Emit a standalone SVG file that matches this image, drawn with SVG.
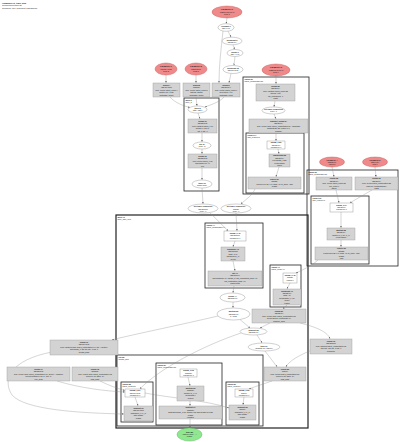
<svg xmlns="http://www.w3.org/2000/svg" width="400" height="442" viewBox="0 0 400 442">
<defs>
<marker id="a" viewBox="0 0 6 6" refX="6" refY="3" markerWidth="1.8" markerHeight="1.8" markerUnits="userSpaceOnUse" orient="auto"><path d="M0,0L6,3L0,6z" fill="#666"/></marker>
<style>
text{font-family:"Liberation Sans",Arial,sans-serif;font-size:2.1px;fill:#222;text-anchor:middle}
.b{font-weight:bold}
.l{text-anchor:start}
.s{font-size:1.9px}
.g{fill:#d3d3d3;stroke:#9a9a9a;stroke-width:0.4}
.w{fill:#fff;stroke:#888;stroke-width:0.4}
.r{fill:#f08a8a;stroke:#c05050;stroke-width:0.4}
.gr{fill:#8fe88f;stroke:#50b050;stroke-width:0.4}
.c{fill:none;stroke:#222;stroke-width:0.8}
.cb{fill:none;stroke:#222;stroke-width:1.2}
#edges path{fill:none;stroke:#888;stroke-width:0.35;marker-end:url(#a)}
</style>
</defs>
<rect width="400" height="442" fill="#fff"/>

<g id="header">
<text class="l b" x="2" y="3.5">HloModule jit_train_step</text>
<text class="l" x="2" y="6.3">Computation main.87</text>
<text class="l" x="2" y="9.1">Compiled: cpu, fingerprint 7d3e2c1a9f</text>
</g>

<g id="clusters">
<g id="cl_while_body"><rect class="c" x="184" y="98" width="35" height="93"/><text class="l b s" x="185.5" y="100.6">while.9</text><text class="l s" x="185.5" y="102.8">body_5</text></g>
<g id="cl_fusion_a"><rect class="c" x="243" y="77" width="66" height="117"/><text class="l b s" x="244.5" y="79.6">fusion.21</text><text class="l s" x="244.5" y="81.8">fused_computation.21</text></g>
<g id="cl_fusion_a_inner"><rect class="c" x="246" y="133" width="58" height="60"/><text class="l b s" x="247.5" y="135.6">reduce.14</text><text class="l s" x="247.5" y="137.8">add_reducer.3</text></g>
<g id="cl_fusion_b"><rect class="c" x="307" y="170" width="91" height="96"/><text class="l b s" x="308.5" y="172.6">fusion.30</text><text class="l s" x="308.5" y="174.8">fused_computation.30</text></g>
<g id="cl_fusion_b_inner"><rect class="c" x="311" y="196" width="58" height="68"/><text class="l b s" x="312.5" y="198.6">reduce.31</text><text class="l s" x="312.5" y="200.8">max_reducer.1</text></g>
<g id="cl_main_while"><rect class="cb" x="116" y="215" width="192" height="213"/><text class="l b s" x="117.5" y="217.6">while.40</text><text class="l s" x="117.5" y="219.8">body_train_loop</text></g>
<g id="cl_upper"><rect class="c" x="205" y="223" width="58" height="65"/><text class="l b s" x="206.5" y="225.6">fusion.44</text><text class="l s" x="206.5" y="227.8">fused_computation.44</text></g>
<g id="cl_small"><rect class="c" x="270" y="265" width="31" height="42"/><text class="l b s" x="271.5" y="267.6">fusion.47</text><text class="l s" x="271.5" y="269.8">fused_comp.47</text></g>
<g id="cl_lower"><rect class="c" x="117" y="355" width="146" height="71"/><text class="l b s" x="118.5" y="357.6">call.52</text><text class="l s" x="118.5" y="359.8">update_step</text></g>
<g id="cl_lower_left"><rect class="c" x="121" y="382" width="32" height="40"/><text class="l b s" x="122.5" y="384.6">fusion.55</text><text class="l s" x="122.5" y="386.8">fused_comp.55</text></g>
<g id="cl_lower_mid"><rect class="c" x="156" y="363" width="66" height="62"/><text class="l b s" x="157.5" y="365.6">fusion.57</text><text class="l s" x="157.5" y="367.8">fused_computation.57</text></g>
<g id="cl_lower_right"><rect class="c" x="226" y="382" width="33" height="43"/><text class="l b s" x="227.5" y="384.6">fusion.59</text><text class="l s" x="227.5" y="386.8">fused_comp.59</text></g>
</g>

<g id="edges">
<path d="M227,18 L226.2,23.5"/>
<path d="M228,31.2 L231,37"/>
<path d="M233,44.8 L234.6,49.3"/>
<path d="M235,56.5 L234,65.3"/>
<path d="M223,31 C221,50 219,65 219,82.8"/>
<path d="M231,73.5 L229,82.8"/>
<path d="M166,75 L166,82.8"/>
<path d="M196,75 L196,82.8"/>
<path d="M276,76 L276,83.8"/>
<path d="M170,97 C175,103 184,106 190,107.5"/>
<path d="M196,97 L197,105.8"/>
<path d="M224,97 C220,102 210,105 205,107"/>
<path d="M198,113 L200,118.8"/>
<path d="M202,133 L202,141.8"/>
<path d="M202,149 L202,153.8"/>
<path d="M202,168 L202,179.8"/>
<path d="M202,188 L203,203.8"/>
<path d="M275,101 L274,106.8"/>
<path d="M274,114 L276,118.8"/>
<path d="M276,133 L276,140.8"/>
<path d="M278,149 L279,153.8"/>
<path d="M279,167 L276,176.8"/>
<path d="M255,189 C252,196 246,199 241,204"/>
<path d="M332,167 L334,176.8"/>
<path d="M375,167 L376,176.8"/>
<path d="M336,190 L339,202.8"/>
<path d="M372,190 L350,202.8"/>
<path d="M341,212 L341,227.8"/>
<path d="M341,240 L341,246.8"/>
<path d="M318,260 C312,266 302,270 296,273"/>
<path d="M210,212.8 L228,230.8"/>
<path d="M236,213 L237,230.8"/>
<path d="M235,241 L233,246.8"/>
<path d="M233,261 L235,270.8"/>
<path d="M234,286 L233,292.8"/>
<path d="M290,283 L287,288.8"/>
<path d="M233,302 L233,307.8"/>
<path d="M287,305 L283,308.8"/>
<path d="M240,319.5 L250,328"/>
<path d="M270,323 L260,328"/>
<path d="M257,335 L262,342.8"/>
<path d="M265,351 L277,366.8"/>
<path d="M272,381 L249,388.8"/>
<path d="M244,397 L243,404.8"/>
<path d="M188,377 L190,385.8"/>
<path d="M190,401 L190,405.8"/>
<path d="M190,419 L190,427.8"/>
<path d="M135,397 L138,405.8"/>
<path d="M218,316 C180,325 140,333 112,339.8"/>
<path d="M241,333 C205,345 160,368 140,388.8"/>
<path d="M52,352 C10,360 2,380 12,395 C25,410 80,413 123.8,414"/>
<path d="M57,381 C80,388 105,391 124.8,392"/>
<path d="M100,381 C108,385 116,388 124.8,390.5"/>
<path d="M145,393 C170,398 205,400 229,408"/>
<path d="M300,323 C320,328 328,333 330,338.8"/>
<path d="M312,350 C300,355 290,360 286,366.8"/>
</g>

<g id="n_param0"><ellipse class="r" cx="227" cy="12" rx="15" ry="6"/><text class="b" x="227" y="10.4">Parameter 0</text><text x="227" y="12.8">f32[32,784]{1,0}</text><text x="227" y="15.2">arg0.1</text></g>
<g id="n_const7"><ellipse class="w" cx="226" cy="27.5" rx="8" ry="3.8"/><text class="b s" x="226" y="27">constant.7</text><text class="s" x="226" y="29.3">f32[] 0.01</text></g>
<g id="n_bcast3"><ellipse class="w" cx="232" cy="41" rx="10" ry="3.8"/><text class="b s" x="232" y="40.5">broadcast.3</text><text class="s" x="232" y="42.8">f32[32,10]</text></g>
<g id="n_neg1"><ellipse class="w" cx="235" cy="53" rx="8" ry="3.5"/><text class="b s" x="235" y="52.5">negate.1</text><text class="s" x="235" y="54.8">f32[] -0.01</text></g>
<g id="n_bcast12"><ellipse class="w" cx="233" cy="69.5" rx="10" ry="4"/><text class="b s" x="233" y="69">broadcast.12</text><text class="s" x="233" y="71.3">f32[784,512]</text></g>

<g id="n_param1"><ellipse class="r" cx="166" cy="69" rx="11" ry="6"/><text class="b" x="166" y="67.4">Parameter 1</text><text x="166" y="69.8">f32[784,512]</text><text x="166" y="72.2">arg1.2</text></g>
<g id="n_param2"><ellipse class="r" cx="196" cy="69" rx="11" ry="6"/><text class="b" x="196" y="67.4">Parameter 2</text><text x="196" y="69.8">f32[512]{0}</text><text x="196" y="72.2">arg2.3</text></g>
<g id="n_param3"><ellipse class="r" cx="276" cy="70" rx="14" ry="6"/><text class="b" x="276" y="68.4">Parameter 3</text><text x="276" y="70.8">f32[512,10]{1,0}</text><text x="276" y="73.2">arg3.4</text></g>

<g id="n_fusion4"><rect class="g" x="153" y="83" width="27" height="14"/><text class="b s" x="166.5" y="85.6">fusion.4</text><text class="s" x="166.5" y="88.1">f32[784,512]</text><text class="s" x="166.5" y="90.6">kind=kLoop fused_comp.4</text><text class="s" x="166.5" y="93.1">multiply(p1, b.12)</text><text class="s" x="166.5" y="95.6">metadata=dense</text></g>
<g id="n_fusion5"><rect class="g" x="183" y="83" width="27" height="14"/><text class="b s" x="196.5" y="85.6">fusion.5</text><text class="s" x="196.5" y="88.1">f32[512]</text><text class="s" x="196.5" y="90.6">kind=kLoop fused_comp.5</text><text class="s" x="196.5" y="93.1">add(p2, bias.2)</text><text class="s" x="196.5" y="95.6">metadata=dense</text></g>
<g id="n_fusion6"><rect class="g" x="212" y="83" width="28" height="14"/><text class="b s" x="226" y="85.6">fusion.6</text><text class="s" x="226" y="88.1">f32[32,784]</text><text class="s" x="226" y="90.6">kind=kLoop fused_comp.6</text><text class="s" x="226" y="93.1">convert(p0, c.7)</text><text class="s" x="226" y="95.6">metadata=input</text></g>

<g id="n_tuple8"><ellipse class="w" cx="197.5" cy="109.5" rx="9.5" ry="3.5"/><text class="b s" x="197.5" y="109">tuple.8</text><text class="s" x="197.5" y="111.3">(f32[], f32[])</text></g>
<g id="n_fusion10"><rect class="g" x="188" y="119" width="29" height="14"/><text class="b s" x="202.5" y="121.6">fusion.10</text><text class="s" x="202.5" y="124.1">f32[32,512]</text><text class="s" x="202.5" y="126.6">kind=kOutput fused_c.10</text><text class="s" x="202.5" y="129.1">dot(gte.0, gte.1)</text><text class="s" x="202.5" y="131.6">lhs=1 rhs=0</text></g>
<g id="n_gte11"><ellipse class="w" cx="202" cy="145.5" rx="9" ry="3.5"/><text class="b s" x="202" y="145">gte.11</text><text class="s" x="202" y="147.3">index=2</text></g>
<g id="n_fusion12"><rect class="g" x="188" y="154" width="29" height="14"/><text class="b s" x="202.5" y="156.6">fusion.12</text><text class="s" x="202.5" y="159.1">f32[32,512]</text><text class="s" x="202.5" y="161.6">kind=kLoop fused_c.12</text><text class="s" x="202.5" y="164.1">maximum(f.10, 0)</text><text class="s" x="202.5" y="166.6">relu</text></g>
<g id="n_tuple13"><ellipse class="w" cx="202" cy="184" rx="10" ry="4"/><text class="b s" x="202" y="183.5">tuple.13</text><text class="s" x="202" y="185.8">ROOT body</text></g>

<g id="n_fusion22"><rect class="g" x="256" y="84" width="39" height="17"/><text class="b s" x="275.5" y="86.6">fusion.22</text><text class="s" x="275.5" y="89.1">f32[32,10]</text><text class="s" x="275.5" y="91.6">kind=kOutput fused_comp.22</text><text class="s" x="275.5" y="94.1">dot(p3, f.12)</text><text class="s" x="275.5" y="96.6">lhs_contracting=1</text><text class="s" x="275.5" y="99.1">logits</text></g>
<g id="n_gte23"><ellipse class="w" cx="273.5" cy="110.5" rx="11.5" ry="3.5"/><text class="b s" x="273.5" y="110">get-tuple-element.23</text><text class="s" x="273.5" y="112.3">index=0</text></g>
<g id="n_fusion24"><rect class="g" x="249" y="119" width="59" height="14"/><text class="b s" x="278.5" y="121.6">subtract_fusion.24</text><text class="s" x="278.5" y="124.1">f32[32,10]</text><text class="s" x="278.5" y="126.6">kind=kLoop calls: fused_computation.24, %subtract</text><text class="s" x="278.5" y="129.1">subtract(gte.23, reduce.14)</text><text class="s" x="278.5" y="131.6">softmax</text></g>
<g id="n_p25"><rect class="w" x="267" y="141" width="18" height="8"/><text class="b s" x="276" y="143.3">param_0.25</text><text class="s" x="276" y="145.5">f32[32,10]</text><text class="s" x="276" y="147.7">Parameter 0</text></g>
<g id="n_exp26"><rect class="g" x="269" y="154" width="21" height="13"/><text class="b s" x="279.5" y="156.4">exponential.26</text><text class="s" x="279.5" y="158.8">f32[32,10]</text><text class="s" x="279.5" y="161.2">exp(param_0.25)</text><text class="s" x="279.5" y="163.6">elementwise</text><text class="s" x="279.5" y="166">fused</text></g>
<g id="n_reduce27"><rect class="g" x="248" y="177" width="53" height="12"/><text class="b s" x="274.5" y="179.5">reduce.27</text><text class="s" x="274.5" y="182">f32[32]</text><text class="s" x="274.5" y="184.5">reduce(exp.26, c.0) dims={1} to_apply=add</text><text class="s" x="274.5" y="187">ROOT</text></g>

<g id="n_gte30"><ellipse class="w" cx="203" cy="208.5" rx="15" ry="4.5"/><text class="b s" x="203" y="207.3">get-tuple-element.30</text><text class="s" x="203" y="209.6">f32[32,512]</text><text class="s" x="203" y="211.9">index=1</text></g>
<g id="n_gte31"><ellipse class="w" cx="236" cy="208.5" rx="15" ry="4.5"/><text class="b s" x="236" y="207.3">get-tuple-element.31</text><text class="s" x="236" y="209.6">f32[32]</text><text class="s" x="236" y="211.9">index=0</text></g>

<g id="n_param4"><ellipse class="r" cx="332" cy="162" rx="12.5" ry="5"/><text class="b s" x="332" y="160.5">Parameter 4</text><text class="s" x="332" y="162.7">s32[32]{0}</text><text class="s" x="332" y="164.9">labels.5</text></g>
<g id="n_param5"><ellipse class="r" cx="375" cy="162" rx="12.5" ry="5"/><text class="b s" x="375" y="160.5">Parameter 5</text><text class="s" x="375" y="162.7">f32[10]{0}</text><text class="s" x="375" y="164.9">bias.6</text></g>
<g id="n_fusion32"><rect class="g" x="316" y="177" width="36" height="13"/><text class="b s" x="334" y="179.4">fusion.32</text><text class="s" x="334" y="181.8">f32[32,10]</text><text class="s" x="334" y="184.2">kind=kLoop fused_comp.32</text><text class="s" x="334" y="186.6">one_hot(p4)</text><text class="s" x="334" y="189">labels</text></g>
<g id="n_fusion33"><rect class="g" x="355" y="177" width="43" height="13"/><text class="b s" x="376.5" y="179.4">fusion.33</text><text class="s" x="376.5" y="181.8">f32[32,10]</text><text class="s" x="376.5" y="184.2">kind=kLoop fused_computation.33</text><text class="s" x="376.5" y="186.6">add(f.24, broadcast(p5))</text><text class="s" x="376.5" y="189">logits</text></g>
<g id="n_p34"><rect class="w" x="330" y="203" width="23" height="9"/><text class="b s" x="341.5" y="205.5">param_0.34</text><text class="s" x="341.5" y="207.8">f32[32,10]</text><text class="s" x="341.5" y="210.1">Parameter 0</text></g>
<g id="n_mul35"><rect class="g" x="327" y="228" width="28" height="12"/><text class="b s" x="341" y="230.5">multiply.35</text><text class="s" x="341" y="233">f32[32,10]</text><text class="s" x="341" y="235.5">multiply(p_0.34, p_1)</text><text class="s" x="341" y="238">elementwise</text></g>
<g id="n_reduce36"><rect class="g" x="315" y="247" width="53" height="13"/><text class="b s" x="341.5" y="249.4">reduce.36</text><text class="s" x="341.5" y="251.8">f32[32]</text><text class="s" x="341.5" y="254.2">reduce(mul.35, c.0) dims={1} to_apply=max</text><text class="s" x="341.5" y="256.6">ROOT</text><text class="s" x="341.5" y="259">loss</text></g>

<g id="n_p45"><rect class="w" x="224" y="231" width="22" height="10"/><text class="b s" x="235" y="233.8">param_0.45</text><text class="s" x="235" y="236.2">f32[32,512]</text><text class="s" x="235" y="238.6">Parameter 0</text></g>
<g id="n_transpose46"><rect class="g" x="221" y="247" width="24" height="14"/><text class="b s" x="233" y="249.6">transpose.46</text><text class="s" x="233" y="252.1">f32[512,32]</text><text class="s" x="233" y="254.6">dims={1,0}</text><text class="s" x="233" y="257.1">transpose(p_0)</text><text class="s" x="233" y="259.6">layout</text></g>
<g id="n_dot47"><rect class="g" x="208" y="271" width="54" height="15"/><text class="b s" x="235" y="273.8">dot.47</text><text class="s" x="235" y="276.4">f32[512,10]</text><text class="s" x="235" y="279">dot(transpose.46, param_1) lhs_contracting_dims={1}</text><text class="s" x="235" y="281.6">rhs_contracting_dims={0}</text><text class="s" x="235" y="284.2">ROOT grad</text></g>
<g id="n_p48"><rect class="w" x="283" y="273" width="14" height="10"/><text class="b s" x="290" y="275.8">param_0.48</text><text class="s" x="290" y="278.2">f32[32]</text><text class="s" x="290" y="280.6">Param 0</text></g>
<g id="n_bcast49"><rect class="g" x="273" y="289" width="28" height="16"/><text class="b s" x="287" y="291.6">broadcast.49</text><text class="s" x="287" y="294">f32[32,10]</text><text class="s" x="287" y="296.4">dims={0}</text><text class="s" x="287" y="298.8">broadcast(p_0.48)</text><text class="s" x="287" y="301.2">divide</text><text class="s" x="287" y="303.6">ROOT</text></g>
<g id="n_fusion44"><ellipse class="w" cx="232.5" cy="297.5" rx="12.5" ry="4.5"/><text class="b s" x="232.5" y="297">fusion.44</text><text class="s" x="232.5" y="299.3">f32[512,10]</text></g>
<g id="n_gte50"><ellipse class="w" cx="233.5" cy="314" rx="16.5" ry="6"/><text class="b s" x="233.5" y="312.3">multiply.50</text><text class="s" x="233.5" y="314.6">f32[512,10]</text><text class="s" x="233.5" y="316.9">lr * grad</text></g>
<g id="n_fusion51"><rect class="g" x="252" y="309" width="54" height="14"/><text class="b s" x="279" y="311.6">fusion.51</text><text class="s" x="279" y="314.1">f32[32,10]</text><text class="s" x="279" y="316.6">kind=kLoop calls: fused_computation.51</text><text class="s" x="279" y="319.1">divide(sub.24, broadcast.49)</text><text class="s" x="279" y="321.6">softmax_grad</text></g>
<g id="n_sub53"><ellipse class="w" cx="253.5" cy="331.5" rx="13.5" ry="3.5"/><text class="b s" x="253.5" y="331">subtract.53</text><text class="s" x="253.5" y="333.3">f32[512,10]</text></g>
<g id="n_tuple54"><ellipse class="w" cx="264" cy="347" rx="16" ry="4"/><text class="b s" x="264" y="346.5">tuple.54</text><text class="s" x="264" y="348.8">(f32[512,10], f32[10])</text></g>
<g id="n_fusion56"><rect class="g" x="264" y="367" width="42" height="14"/><text class="b s" x="285" y="369.6">fusion.56</text><text class="s" x="285" y="372.1">f32[10]</text><text class="s" x="285" y="374.6">kind=kInput fused_computation.56</text><text class="s" x="285" y="377.1">reduce(f.51) dims={0}</text><text class="s" x="285" y="379.6">bias_grad</text></g>

<g id="n_p60"><rect class="w" x="125" y="389" width="20" height="8"/><text class="b s" x="135" y="391.3">param_0.60</text><text class="s" x="135" y="393.5">f32[784,512]</text><text class="s" x="135" y="395.7">Parameter 0</text></g>
<g id="n_sub61"><rect class="g" x="124" y="406" width="29" height="15"/><text class="b s" x="138.5" y="408.6">subtract.61</text><text class="s" x="138.5" y="411.1">f32[784,512]</text><text class="s" x="138.5" y="413.6">subtract(p_0, p_1)</text><text class="s" x="138.5" y="416.1">sgd update</text><text class="s" x="138.5" y="418.6">ROOT</text></g>
<g id="n_p62"><rect class="w" x="180" y="369" width="17" height="8"/><text class="b s" x="188.5" y="371.3">param_0.62</text><text class="s" x="188.5" y="373.5">f32[512]</text><text class="s" x="188.5" y="375.7">Parameter 0</text></g>
<g id="n_mul63"><rect class="g" x="177" y="386" width="27" height="15"/><text class="b s" x="190.5" y="388.6">multiply.63</text><text class="s" x="190.5" y="391.1">f32[512]</text><text class="s" x="190.5" y="393.6">multiply(p_0, lr)</text><text class="s" x="190.5" y="396.1">broadcast lr</text><text class="s" x="190.5" y="398.6">scaled</text></g>
<g id="n_sub64"><rect class="g" x="159" y="406" width="63" height="13"/><text class="b s" x="190.5" y="408.4">subtract.64</text><text class="s" x="190.5" y="410.8">f32[512]</text><text class="s" x="190.5" y="413.2">subtract(param_1.62, multiply.63) sgd update for bias</text><text class="s" x="190.5" y="415.6">ROOT</text><text class="s" x="190.5" y="418">updated</text></g>
<g id="n_p65"><rect class="w" x="235" y="389" width="18" height="8"/><text class="b s" x="244" y="391.3">param_0.65</text><text class="s" x="244" y="393.5">f32[10]</text><text class="s" x="244" y="395.7">Parameter 0</text></g>
<g id="n_sub66"><rect class="g" x="229" y="405" width="27" height="15"/><text class="b s" x="242.5" y="407.6">subtract.66</text><text class="s" x="242.5" y="410.1">f32[10]</text><text class="s" x="242.5" y="412.6">subtract(p_1, p_0)</text><text class="s" x="242.5" y="415.1">sgd update</text><text class="s" x="242.5" y="417.6">ROOT</text></g>

<g id="n_fusion70"><rect class="g" x="50" y="340" width="68" height="15"/><text class="b s" x="84" y="342.6">fusion.70</text><text class="s" x="84" y="345.1">f32[784,512]</text><text class="s" x="84" y="347.6">kind=kOutput calls: fused_computation.70, dot + multiply</text><text class="s" x="84" y="350.1">dot(param_0, gte.30) lhs=0 rhs=0</text><text class="s" x="84" y="352.6">weight_grad</text></g>
<g id="n_fusion71"><rect class="g" x="7" y="367" width="63" height="14"/><text class="b s" x="38.5" y="369.6">fusion.71</text><text class="s" x="38.5" y="372.1">f32[32,512]</text><text class="s" x="38.5" y="374.6">kind=kLoop calls: fused_computation.71, select + compare</text><text class="s" x="38.5" y="377.1">select(compare(f.12, 0), dot, 0)</text><text class="s" x="38.5" y="379.6">relu_grad</text></g>
<g id="n_fusion72"><rect class="g" x="72" y="367" width="46" height="14"/><text class="b s" x="95" y="369.6">fusion.72</text><text class="s" x="95" y="372.1">f32[512]</text><text class="s" x="95" y="374.6">kind=kInput calls: fused_computation.72</text><text class="s" x="95" y="377.1">reduce(f.71) dims={0}</text><text class="s" x="95" y="379.6">bias_grad</text></g>
<g id="n_fusion73"><rect class="g" x="310" y="339" width="42" height="15"/><text class="b s" x="331" y="341.6">fusion.73</text><text class="s" x="331" y="344.1">f32[32,512]</text><text class="s" x="331" y="346.6">kind=kOutput fused_computation.73</text><text class="s" x="331" y="349.1">dot(f.51, p3) lhs=1 rhs=1</text><text class="s" x="331" y="351.6">backprop</text></g>

<g id="n_root"><ellipse class="gr" cx="189.5" cy="434.5" rx="12.5" ry="6.5"/><text class="b s" x="189.5" y="432.8">tuple.80</text><text class="s" x="189.5" y="435.1">(f32[784,512], ...)</text><text class="s" x="189.5" y="437.4">ROOT</text></g>
</svg>
